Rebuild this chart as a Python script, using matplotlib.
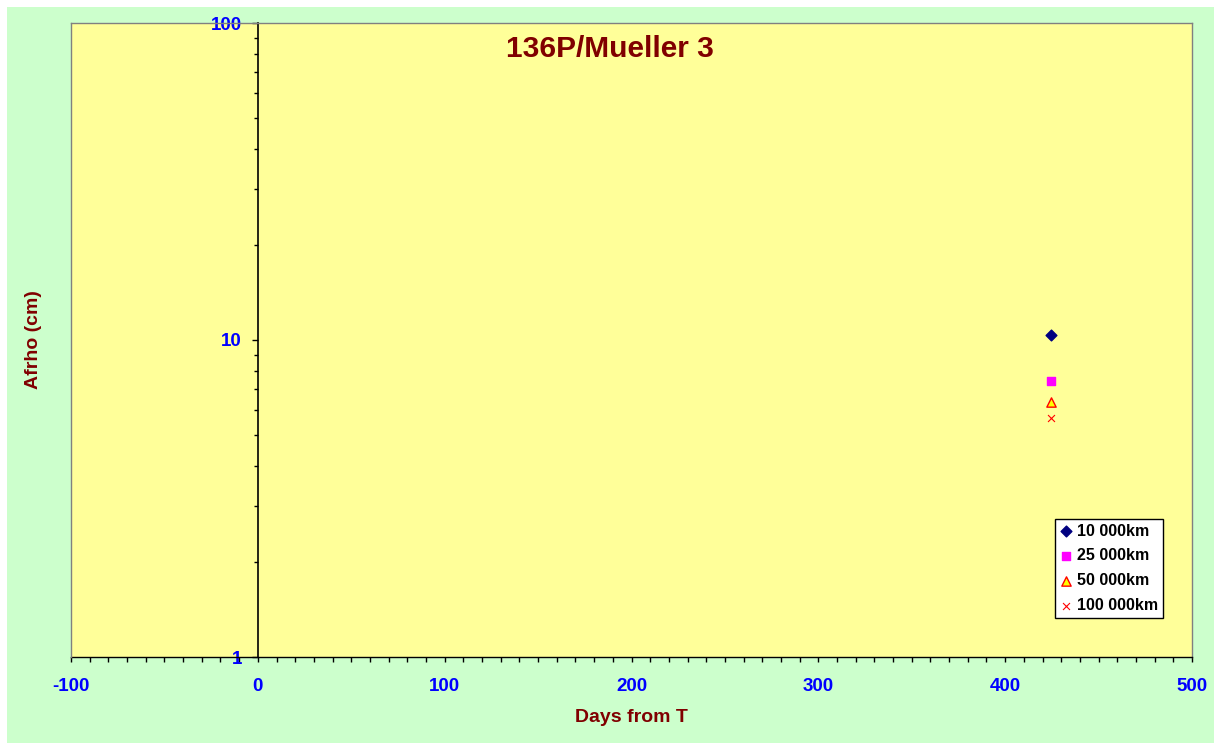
import matplotlib
matplotlib.use("Agg")
import matplotlib.pyplot as plt
from matplotlib.ticker import MultipleLocator, LogLocator, FixedLocator, NullFormatter

plt.rcParams['font.family'] = ['Liberation Sans', 'DejaVu Sans']
plt.rcParams['axes.unicode_minus'] = False

# Data
days = [424.5]
afrho_10k = [10.4]
afrho_25k = [7.42]
afrho_50k = [6.37]
afrho_100k = [5.67]
series_labels = ["10 000km", "25 000km", "50 000km", "100 000km"]
xticks = [-100, 0, 100, 200, 300, 400, 500]
yticks = [1, 10, 100]
ytick_labels = ["1", "10", "100"]

W, H = 1221, 750
fig = plt.figure(figsize=(W/100, H/100), dpi=100)
fig.patch.set_facecolor('white')
# green panel
fig.patches.append(plt.Rectangle((7/W, 7/H), (1214-7)/W, (743-7)/H,
                                 transform=fig.transFigure, facecolor='#CCFFCC',
                                 edgecolor='none', zorder=-10))

ax = fig.add_axes([71/W, (H-657)/H, (1192-71)/W, (657-23)/H])
ax.set_zorder(1)
ax.set_facecolor('#FFFF99')
ax.set_xlim(-100, 500)
ax.set_yscale('log')
ax.set_ylim(1, 100)

for s in ['top', 'right']:
    ax.spines[s].set_color('#808080')
    ax.spines[s].set_linewidth(1)
ax.spines['bottom'].set_color('black')
ax.spines['bottom'].set_linewidth(1)
ax.spines['left'].set_position(('data', 0))
ax.spines['left'].set_color('black')
ax.spines['left'].set_linewidth(1.2)
ax.plot([0, 0], [0, 1], transform=ax.transAxes, color='#808080', lw=1, clip_on=False, zorder=5)

ax.xaxis.set_major_locator(FixedLocator(xticks))
ax.xaxis.set_minor_locator(MultipleLocator(10))
ax.yaxis.set_major_locator(FixedLocator(yticks))
ax.set_yticklabels(ytick_labels)
ax.yaxis.set_minor_locator(LogLocator(base=10, subs=range(2, 10)))
ax.yaxis.set_minor_formatter(NullFormatter())

ax.tick_params(axis='x', which='major', direction='out', length=3.8, width=1, color='black',
               pad=11.5, labelsize=13.5, labelcolor='#0000FF')
ax.tick_params(axis='x', which='minor', direction='out', length=3.6, width=1, color='black')
ax.tick_params(axis='y', which='major', direction='out', length=4.5, width=1, color='black',
               pad=7, labelsize=13.5, labelcolor='#0000FF')
ax.tick_params(axis='y', which='minor', direction='out', length=3, width=1, color='black')
for lab in ax.get_xticklabels() + ax.get_yticklabels():
    lab.set_fontweight('bold')

ax.scatter(days, afrho_10k, marker='D', s=30, color='#000080', label=series_labels[0], zorder=6)
ax.scatter(days, afrho_25k, marker='s', s=40, color='#FF00FF', label=series_labels[1], zorder=6)
ax.scatter(days, afrho_50k, marker='^', s=45, facecolor='#FFFF00', edgecolor='#FF0000', linewidths=1,
           label=series_labels[2], zorder=6)
ax.scatter(days, afrho_100k, marker='x', s=25, color='#FF0000', linewidths=0.8, label=series_labels[3], zorder=6)

leg = ax.legend(loc='lower right', bbox_to_anchor=((1163-71)/1121, (657-618)/634),
                borderaxespad=0, frameon=True, fancybox=False, edgecolor='black',
                facecolor='white', framealpha=1, prop={'weight': 'bold', 'size': 11.5},
                handletextpad=0.3, handlelength=0.78, labelspacing=0.62, borderpad=0.3)
leg.get_frame().set_linewidth(1)

ax.text((610-71)/1121, (657-49)/634, "136P/Mueller 3", transform=ax.transAxes,
        ha='center', va='center', fontsize=21.5, fontweight='bold', color='#800000')

fig.text(631/W, 1-717/H, "Days from T", ha='center', va='center', fontsize=14,
         fontweight='bold', color='#800000')
fig.text(33/W, 1-340/H, "Afrho (cm)", ha='center', va='center', rotation=90, fontsize=14,
         fontweight='bold', color='#800000')

fig.savefig('out.png', dpi=100, facecolor=fig.get_facecolor())
